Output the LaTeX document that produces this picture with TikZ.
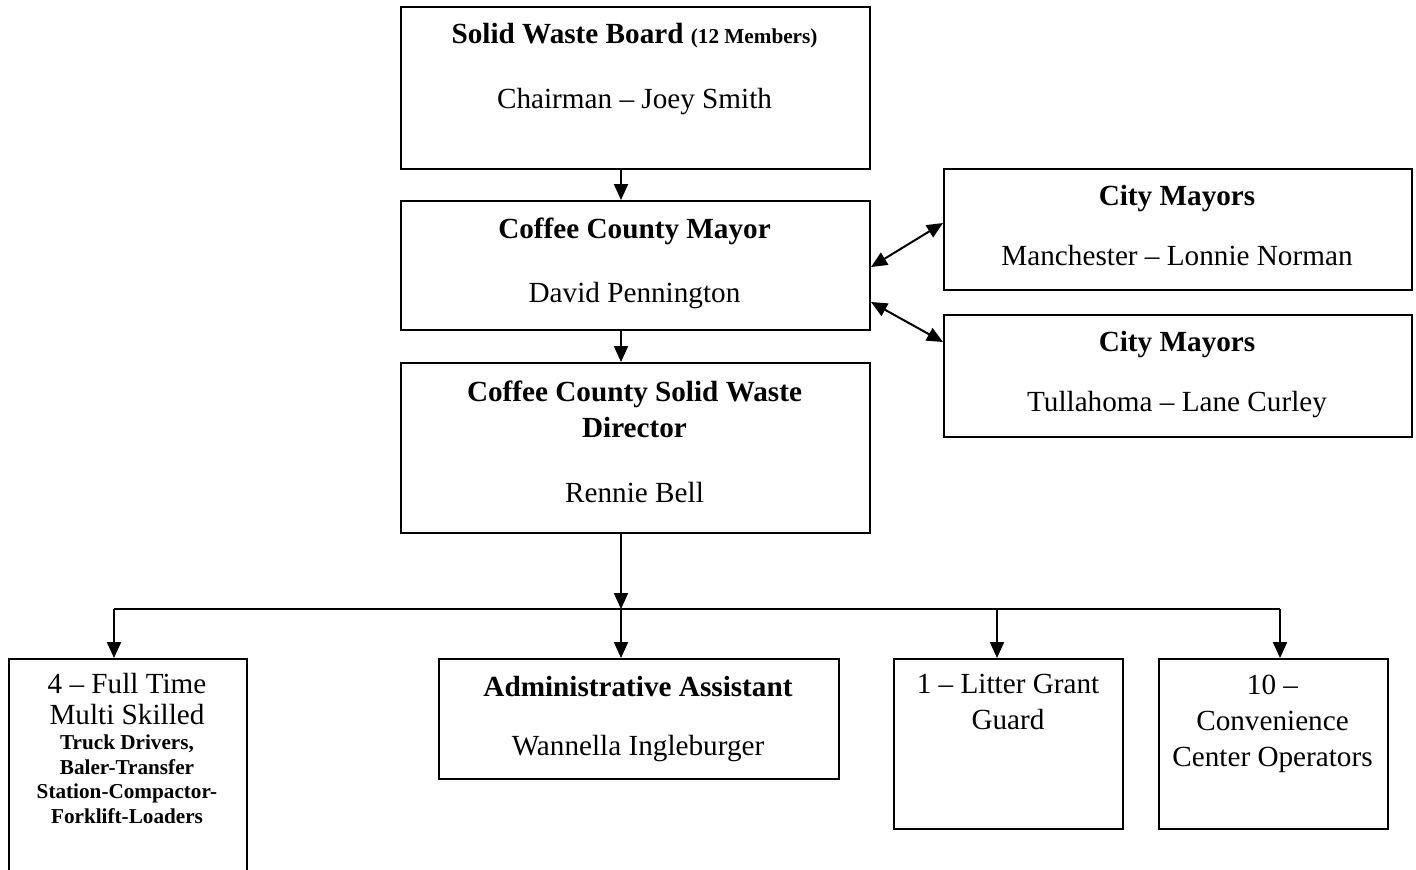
\documentclass[tikz,border=0pt]{standalone}
\usepackage{fontspec}
\setmainfont{Liberation Serif}
\usetikzlibrary{arrows.meta,calc,positioning}
\tikzset{
  box/.style={draw, line width=1pt, inner sep=0pt, anchor=north west},
  hd/.style={font=\fontsize{14.6}{18}\selectfont\bfseries, align=center, anchor=base, inner sep=0pt},
  nm/.style={font=\fontsize{14.6}{18}\selectfont, align=center, anchor=base, inner sep=0pt},
  fine/.style={font=\fontsize{10.6}{12.2}\selectfont\bfseries, align=center, anchor=base, inner sep=0pt},
  link/.style={line width=1pt, -{Triangle[length=8pt,width=7pt]}},
  twoway/.style={line width=1pt, {Triangle[length=8pt,width=7pt]}-{Triangle[length=8pt,width=7pt]}},
  wire/.style={line width=1pt}
}
\begin{document}
\begin{tikzpicture}[x=0.5pt, y=-0.5pt, line join=miter]
  \useasboundingbox (0,0) rectangle (1416,869);
  % boxes
  \node[box, minimum width=234.5pt, minimum height=81pt] (board) at (400,6) {};
  \node[box, minimum width=234.5pt, minimum height=64.5pt] (mayor) at (400,200) {};
  \node[box, minimum width=234.5pt, minimum height=85pt] (director) at (400,362) {};
  \node[box, minimum width=234pt, minimum height=60.5pt] (manchester) at (943,168) {};
  \node[box, minimum width=234pt, minimum height=61pt] (tullahoma) at (943,314) {};
  \node[box, minimum width=119pt, minimum height=120pt] (crew) at (8,658) {};
  \node[box, minimum width=200pt, minimum height=60pt] (admin) at (438,658) {};
  \node[box, minimum width=114.5pt, minimum height=85pt] (litter) at (893,658) {};
  \node[box, minimum width=114.5pt, minimum height=85pt] (operators) at (1158,658) {};
  % texts (multi-line nodes sit on their last line)
  \node[hd] (boardhd) at (634.5,43) {Solid Waste Board {\fontsize{10.6}{12}\selectfont (12 Members)}};
  \node[nm] (boardnm) at (634.5,108) {Chairman – Joey Smith};
  \node[hd] (mayorhd) at (634.5,238) {Coffee County Mayor};
  \node[nm] (mayornm) at (634.5,302) {David Pennington};
  \node[hd] (dirhd) at (634.5,437) {Coffee County Solid Waste\\Director};
  \node[nm] (dirnm) at (634.5,502) {Rennie Bell};
  \node[hd] (manhd) at (1177,205) {City Mayors};
  \node[nm] (mannm) at (1177,265) {Manchester – Lonnie Norman};
  \node[hd] (tulhd) at (1177,351) {City Mayors};
  \node[nm] (tulnm) at (1177,411) {Tullahoma – Lane Curley};
  \node[nm, font=\fontsize{14.6}{15.5}\selectfont] (crewnm) at (127,724) {4 – Full Time\\Multi Skilled};
  \node[fine] (crewjob) at (127,823) {Truck Drivers,\\Baler-Transfer\\Station-Compactor-\\Forklift-Loaders};
  \node[hd] (adminhd) at (638,696) {Administrative Assistant};
  \node[nm] (adminnm) at (638,755) {Wannella Ingleburger};
  \node[nm] (litternm) at (1008,729) {1 – Litter Grant\\Guard};
  \node[nm] (opnm) at (1272.5,766) {10 –\\Convenience\\Center Operators};
  % connectors
  \coordinate (spine) at (621,0);
  \coordinate (bus) at (0,609);
  \coordinate (busl) at (114,609);
  \coordinate (busr) at (1280,609);
  \draw[link] (spine |- board.south) -- (spine |- mayor.north);
  \draw[link] (spine |- mayor.south) -- (spine |- director.north);
  \draw[link] (spine |- director.south) -- (spine |- bus);
  \draw[wire] (busl) -- (busr);
  \foreach \t/\n in {114/crew,621/admin,997/litter,1280/operators}
    \draw[link] (\t,0 |- bus) -- (\t,0 |- \n.north);
  \draw[twoway] ($(mayor.north east)+(0,67)$) -- ($(manchester.north west)+(0,55)$);
  \draw[twoway] ($(mayor.north east)+(0,102)$) -- ($(tullahoma.north west)+(0,28)$);
\end{tikzpicture}
\end{document}
